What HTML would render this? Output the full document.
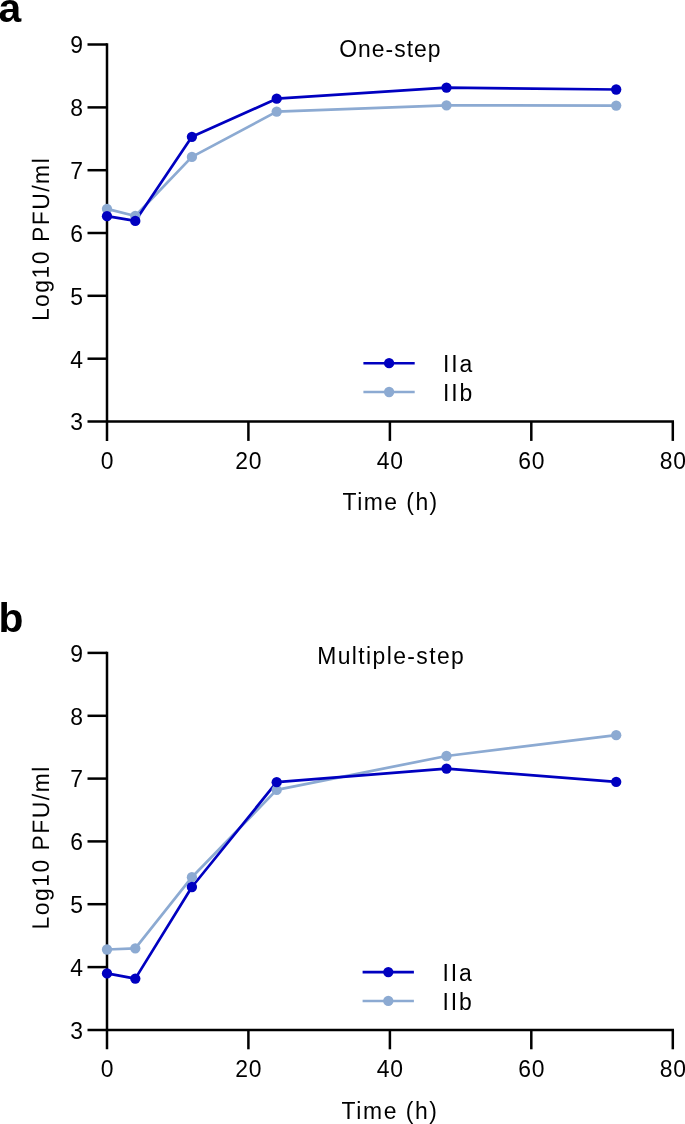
<!DOCTYPE html>
<html><head><meta charset="utf-8"><title>Growth curves</title>
<style>
html,body{margin:0;padding:0;background:#fff}
svg{display:block}
.t{font-family:"Liberation Sans",Arial,sans-serif;font-size:22.9px;fill:#000}
.L{font-family:"Liberation Sans",Arial,sans-serif;font-size:40.8px;font-weight:bold;fill:#000}
</style></head><body>
<svg width="685" height="1124" viewBox="0 0 685 1124">
<rect width="685" height="1124" fill="#fff"/>
<polyline points="107.0,208.9 135.3,216.0 191.9,156.9 276.7,111.6 446.5,105.3 616.2,105.6" fill="none" stroke="#8caad2" stroke-width="2.7" stroke-linejoin="round"/>
<polyline points="107.0,216.2 135.3,220.9 191.9,136.8 276.7,98.7 446.5,87.6 616.2,89.5" fill="none" stroke="#0000c0" stroke-width="2.7" stroke-linejoin="round"/>
<path d="M107.0,43.3V440.9M87.5,421.5H674.0" stroke="#000" stroke-width="2.5" fill="none"/>
<text transform="translate(83.0,430.3) scale(1,1.04)" x="0" y="0" text-anchor="end" class="t">3</text>
<path d="M87.5,358.7H107.0" stroke="#000" stroke-width="2.5"/>
<text transform="translate(83.0,367.5) scale(1,1.04)" x="0" y="0" text-anchor="end" class="t">4</text>
<path d="M87.5,295.8H107.0" stroke="#000" stroke-width="2.5"/>
<text transform="translate(83.0,304.6) scale(1,1.04)" x="0" y="0" text-anchor="end" class="t">5</text>
<path d="M87.5,233.0H107.0" stroke="#000" stroke-width="2.5"/>
<text transform="translate(83.0,241.8) scale(1,1.04)" x="0" y="0" text-anchor="end" class="t">6</text>
<path d="M87.5,170.2H107.0" stroke="#000" stroke-width="2.5"/>
<text transform="translate(83.0,179.0) scale(1,1.04)" x="0" y="0" text-anchor="end" class="t">7</text>
<path d="M87.5,107.4H107.0" stroke="#000" stroke-width="2.5"/>
<text transform="translate(83.0,116.2) scale(1,1.04)" x="0" y="0" text-anchor="end" class="t">8</text>
<path d="M87.5,44.5H107.0" stroke="#000" stroke-width="2.5"/>
<text transform="translate(83.0,53.3) scale(1,1.04)" x="0" y="0" text-anchor="end" class="t">9</text>
<text transform="translate(107.0,468.7) scale(1,1.04)" x="0.4" y="0" text-anchor="middle" letter-spacing="0.8" class="t">0</text>
<path d="M248.4,421.5V440.9" stroke="#000" stroke-width="2.5"/>
<text transform="translate(248.4,468.7) scale(1,1.04)" x="0.4" y="0" text-anchor="middle" letter-spacing="0.8" class="t">20</text>
<path d="M389.9,421.5V440.9" stroke="#000" stroke-width="2.5"/>
<text transform="translate(389.9,468.7) scale(1,1.04)" x="0.4" y="0" text-anchor="middle" letter-spacing="0.8" class="t">40</text>
<path d="M531.3,421.5V440.9" stroke="#000" stroke-width="2.5"/>
<text transform="translate(531.3,468.7) scale(1,1.04)" x="0.4" y="0" text-anchor="middle" letter-spacing="0.8" class="t">60</text>
<path d="M672.8,421.5V440.9" stroke="#000" stroke-width="2.5"/>
<text transform="translate(672.8,468.7) scale(1,1.04)" x="0.4" y="0" text-anchor="middle" letter-spacing="0.8" class="t">80</text>
<circle cx="107.0" cy="208.9" r="5.15" fill="#8caad2"/>
<circle cx="135.3" cy="216.0" r="5.15" fill="#8caad2"/>
<circle cx="191.9" cy="156.9" r="5.15" fill="#8caad2"/>
<circle cx="276.7" cy="111.6" r="5.15" fill="#8caad2"/>
<circle cx="446.5" cy="105.3" r="5.15" fill="#8caad2"/>
<circle cx="616.2" cy="105.6" r="5.15" fill="#8caad2"/>
<circle cx="107.0" cy="216.2" r="5.15" fill="#0000c0"/>
<circle cx="135.3" cy="220.9" r="5.15" fill="#0000c0"/>
<circle cx="191.9" cy="136.8" r="5.15" fill="#0000c0"/>
<circle cx="276.7" cy="98.7" r="5.15" fill="#0000c0"/>
<circle cx="446.5" cy="87.6" r="5.15" fill="#0000c0"/>
<circle cx="616.2" cy="89.5" r="5.15" fill="#0000c0"/>
<text transform="translate(389.9,57.1) scale(1,1.04)" x="0.5" y="0" text-anchor="middle" letter-spacing="1.0" class="t">One-step</text>
<text transform="translate(389.9,510.3) scale(1,1.04)" x="0.735" y="0" text-anchor="middle" letter-spacing="1.47" class="t">Time (h)</text>
<text transform="translate(48.9,239.7) rotate(-89.9) scale(1,1.04)" x="0.75" y="0" text-anchor="middle" letter-spacing="1.5" class="t">Log10 PFU/ml</text>
<path d="M363.4,363.2H414.7" stroke="#0000c0" stroke-width="2.55"/>
<circle cx="389.1" cy="363.2" r="5.15" fill="#0000c0"/>
<text transform="translate(443.0,372.0) scale(1,1.04)" x="0" y="0" letter-spacing="1.84" class="t">IIa</text>
<path d="M363.4,392.0H414.7" stroke="#8caad2" stroke-width="2.55"/>
<circle cx="389.1" cy="392.0" r="5.15" fill="#8caad2"/>
<text transform="translate(443.0,400.8) scale(1,1.04)" x="0" y="0" letter-spacing="1.84" class="t">IIb</text>
<text transform="translate(-1.6,21.9)" x="0" y="0" class="L">a</text>
<polyline points="107.0,949.5 135.3,948.3 191.9,877.2 276.7,789.9 446.5,756.0 616.2,735.2" fill="none" stroke="#8caad2" stroke-width="2.7" stroke-linejoin="round"/>
<polyline points="107.0,973.4 135.3,978.6 191.9,887.0 276.7,782.2 446.5,768.6 616.2,781.9" fill="none" stroke="#0000c0" stroke-width="2.7" stroke-linejoin="round"/>
<path d="M107.0,651.7V1049.3M87.5,1029.9H674.0" stroke="#000" stroke-width="2.5" fill="none"/>
<text transform="translate(83.0,1038.7) scale(1,1.04)" x="0" y="0" text-anchor="end" class="t">3</text>
<path d="M87.5,967.1H107.0" stroke="#000" stroke-width="2.5"/>
<text transform="translate(83.0,975.9) scale(1,1.04)" x="0" y="0" text-anchor="end" class="t">4</text>
<path d="M87.5,904.2H107.0" stroke="#000" stroke-width="2.5"/>
<text transform="translate(83.0,913.0) scale(1,1.04)" x="0" y="0" text-anchor="end" class="t">5</text>
<path d="M87.5,841.4H107.0" stroke="#000" stroke-width="2.5"/>
<text transform="translate(83.0,850.2) scale(1,1.04)" x="0" y="0" text-anchor="end" class="t">6</text>
<path d="M87.5,778.6H107.0" stroke="#000" stroke-width="2.5"/>
<text transform="translate(83.0,787.4) scale(1,1.04)" x="0" y="0" text-anchor="end" class="t">7</text>
<path d="M87.5,715.8H107.0" stroke="#000" stroke-width="2.5"/>
<text transform="translate(83.0,724.6) scale(1,1.04)" x="0" y="0" text-anchor="end" class="t">8</text>
<path d="M87.5,652.9H107.0" stroke="#000" stroke-width="2.5"/>
<text transform="translate(83.0,661.7) scale(1,1.04)" x="0" y="0" text-anchor="end" class="t">9</text>
<text transform="translate(107.0,1077.1) scale(1,1.04)" x="0.4" y="0" text-anchor="middle" letter-spacing="0.8" class="t">0</text>
<path d="M248.4,1029.9V1049.3" stroke="#000" stroke-width="2.5"/>
<text transform="translate(248.4,1077.1) scale(1,1.04)" x="0.4" y="0" text-anchor="middle" letter-spacing="0.8" class="t">20</text>
<path d="M389.9,1029.9V1049.3" stroke="#000" stroke-width="2.5"/>
<text transform="translate(389.9,1077.1) scale(1,1.04)" x="0.4" y="0" text-anchor="middle" letter-spacing="0.8" class="t">40</text>
<path d="M531.3,1029.9V1049.3" stroke="#000" stroke-width="2.5"/>
<text transform="translate(531.3,1077.1) scale(1,1.04)" x="0.4" y="0" text-anchor="middle" letter-spacing="0.8" class="t">60</text>
<path d="M672.8,1029.9V1049.3" stroke="#000" stroke-width="2.5"/>
<text transform="translate(672.8,1077.1) scale(1,1.04)" x="0.4" y="0" text-anchor="middle" letter-spacing="0.8" class="t">80</text>
<circle cx="107.0" cy="949.5" r="5.15" fill="#8caad2"/>
<circle cx="135.3" cy="948.3" r="5.15" fill="#8caad2"/>
<circle cx="191.9" cy="877.2" r="5.15" fill="#8caad2"/>
<circle cx="276.7" cy="789.9" r="5.15" fill="#8caad2"/>
<circle cx="446.5" cy="756.0" r="5.15" fill="#8caad2"/>
<circle cx="616.2" cy="735.2" r="5.15" fill="#8caad2"/>
<circle cx="107.0" cy="973.4" r="5.15" fill="#0000c0"/>
<circle cx="135.3" cy="978.6" r="5.15" fill="#0000c0"/>
<circle cx="191.9" cy="887.0" r="5.15" fill="#0000c0"/>
<circle cx="276.7" cy="782.2" r="5.15" fill="#0000c0"/>
<circle cx="446.5" cy="768.6" r="5.15" fill="#0000c0"/>
<circle cx="616.2" cy="781.9" r="5.15" fill="#0000c0"/>
<text transform="translate(390.5,664.0) scale(1,1.04)" x="0.7" y="0" text-anchor="middle" letter-spacing="1.4" class="t">Multiple-step</text>
<text transform="translate(389.3,1118.7) scale(1,1.04)" x="0.785" y="0" text-anchor="middle" letter-spacing="1.57" class="t">Time (h)</text>
<text transform="translate(48.9,848.1) rotate(-89.9) scale(1,1.04)" x="0.75" y="0" text-anchor="middle" letter-spacing="1.5" class="t">Log10 PFU/ml</text>
<path d="M362.6,972.1H413.9" stroke="#0000c0" stroke-width="2.55"/>
<circle cx="388.3" cy="972.1" r="5.15" fill="#0000c0"/>
<text transform="translate(442.6,980.9) scale(1,1.04)" x="0" y="0" letter-spacing="1.84" class="t">IIa</text>
<path d="M362.6,1000.9H413.9" stroke="#8caad2" stroke-width="2.55"/>
<circle cx="388.3" cy="1000.9" r="5.15" fill="#8caad2"/>
<text transform="translate(442.6,1009.7) scale(1,1.04)" x="0" y="0" letter-spacing="1.84" class="t">IIb</text>
<text transform="translate(-1.6,631.6)" x="0" y="0" class="L">b</text>
</svg>
</body></html>
